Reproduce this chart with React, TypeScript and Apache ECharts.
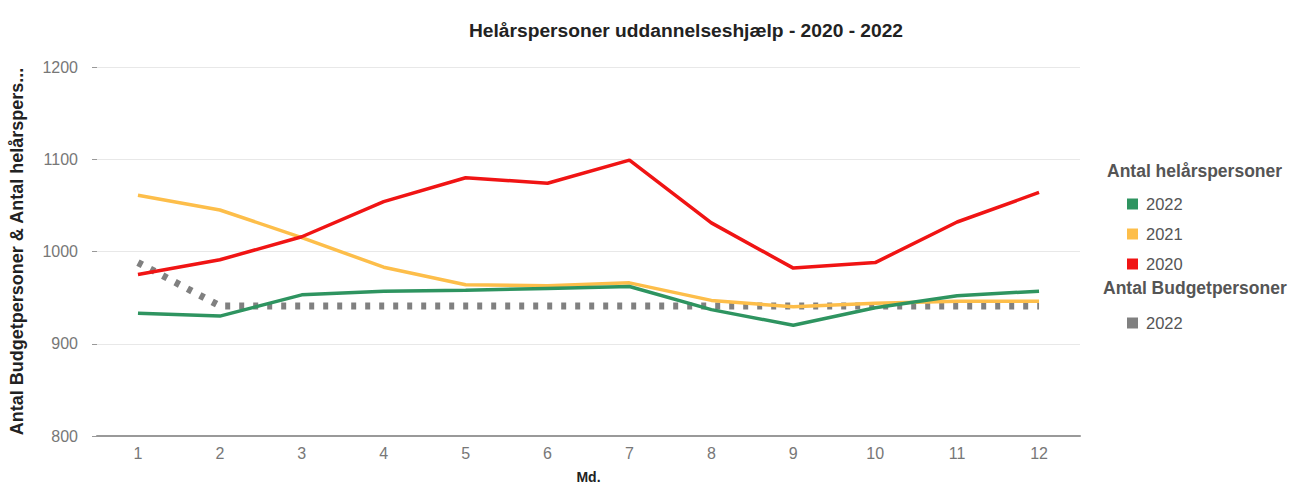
import React, { useEffect, useRef } from "react";
import * as echarts from "echarts";

const months = ["1", "2", "3", "4", "5", "6", "7", "8", "9", "10", "11", "12"];
const yTicks = [800, 900, 1000, 1100, 1200];
const hel2022 = [933, 930, 953, 957, 958, 960, 962, 937, 920, 939, 952, 957];
const hel2021 = [1061, 1045, 1015, 983, 964, 963, 966, 947, 940, 944, 946, 946];
const hel2020 = [975, 991, 1016, 1054, 1080, 1074, 1099, 1031, 982, 988, 1032, 1064];
const budget2022 = [988, 941, 941, 941, 941, 941, 941, 941, 941, 941, 941, 941];

const GREEN = "#2E9460";
const YELLOW = "#FDBE4A";
const RED = "#F01414";
const GREY = "#808080";

export default function App() {
  const ref = useRef<HTMLDivElement>(null);
  useEffect(() => {
    if (!ref.current) return;
    const chart = echarts.init(ref.current, undefined, { renderer: "svg" });
    const font = "Arial, 'Liberation Sans', sans-serif";
    chart.setOption({
      animation: false,
      textStyle: { fontFamily: font },
      title: {
        text: "Helårspersoner uddannelseshjælp - 2020 - 2022",
        left: 464,
        top: 16,
        textStyle: { fontSize: 19.2, fontWeight: "bold", color: "#222", fontFamily: font },
      },
      grid: { left: 97, right: 218, top: 67, bottom: 50, outerBoundsMode: "none", containLabel: false },
      xAxis: {
        type: "category",
        data: months,
        boundaryGap: true,
        name: "Md.",
        nameLocation: "middle",
        nameGap: 34,
        nameTextStyle: { fontSize: 14, fontWeight: "bold", color: "#222" },
        axisLine: { lineStyle: { color: "#999", width: 2 } },
        axisTick: { alignWithLabel: true, length: 5, lineStyle: { color: "#bbb" } },
        axisLabel: { color: "#777", fontSize: 16, margin: 9 },
      },
      yAxis: {
        type: "value",
        min: yTicks[0],
        max: yTicks[yTicks.length - 1],
        interval: 100,
        name: "Antal Budgetpersoner & Antal helårspers...",
        nameLocation: "middle",
        nameGap: 71,
        nameTextStyle: { fontSize: 18, fontWeight: "bold", color: "#222" },
        axisLine: { show: false },
        axisTick: { show: true, length: 5, lineStyle: { color: "#999" } },
        axisLabel: { color: "#777", fontSize: 16, margin: 19, formatter: (v: number) => String(v) },
        splitLine: { lineStyle: { color: "#e8e8e8", width: 1 } },
      },
      legend: [
        {
          orient: "vertical",
          left: 1122,
          top: 190,
          icon: "rect",
          itemWidth: 11,
          itemHeight: 11,
          itemGap: 12,
          data: ["2022", "2021", "2020"],
          textStyle: { color: "#555", fontSize: 16.5, lineHeight: 18, padding: [0, 0, 0, 3] },
        },
        {
          orient: "vertical",
          left: 1122,
          top: 309,
          icon: "rect",
          itemWidth: 11,
          itemHeight: 11,
          data: ["Budget 2022"],
          formatter: () => "2022",
          itemStyle: { color: GREY },
          lineStyle: { type: "solid" },
          textStyle: { color: "#555", fontSize: 16.5, lineHeight: 18, padding: [0, 0, 0, 3] },
        },
      ],
      graphic: [
        {
          type: "text",
          left: 1107,
          top: 162,
          style: { text: "Antal helårspersoner", fill: "#555", fontSize: 17.5, fontWeight: "bold", fontFamily: font },
        },
        {
          type: "text",
          left: 1103,
          top: 279,
          style: { text: "Antal Budgetpersoner", fill: "#555", fontSize: 17.5, fontWeight: "bold", fontFamily: font },
        },
      ],
      series: [
        {
          name: "Budget 2022",
          type: "line",
          data: budget2022,
          showSymbol: false,
          itemStyle: { color: GREY },
          lineStyle: { color: GREY, width: 7, type: [5, 9] },
          z: 1,
        },
        {
          name: "2022",
          type: "line",
          data: hel2022,
          showSymbol: false,
          itemStyle: { color: GREEN },
          lineStyle: { color: GREEN, width: 3.5 },
          z: 4,
        },
        {
          name: "2021",
          type: "line",
          data: hel2021,
          showSymbol: false,
          itemStyle: { color: YELLOW },
          lineStyle: { color: YELLOW, width: 3.5 },
          z: 3,
        },
        {
          name: "2020",
          type: "line",
          data: hel2020,
          showSymbol: false,
          itemStyle: { color: RED },
          lineStyle: { color: RED, width: 3.5 },
          z: 5,
        },
      ],
    });
    return () => chart.dispose();
  }, []);
  return (
    <div
      ref={ref}
      style={{ position: "fixed", left: 0, top: 0, width: 1298, height: 486, background: "#fff" }}
    />
  );
}
